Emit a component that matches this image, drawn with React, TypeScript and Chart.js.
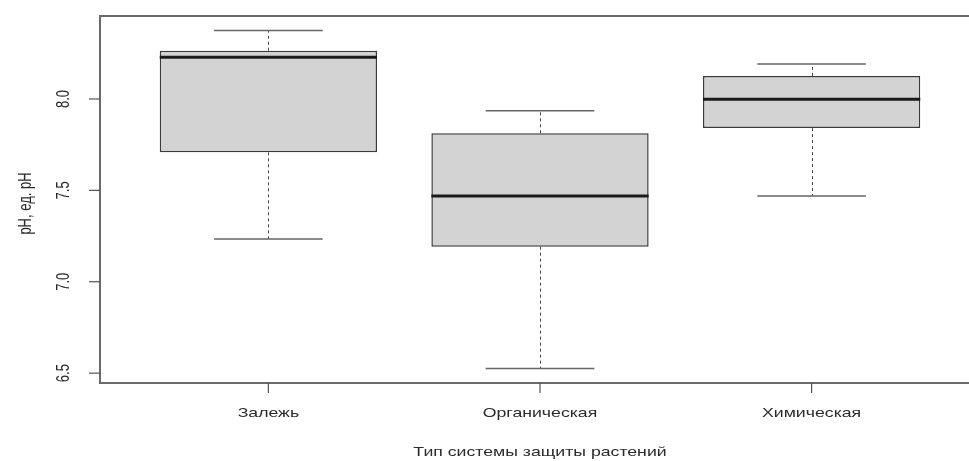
import React, { useEffect, useRef } from "react";
import { Chart, registerables } from "chart.js";

Chart.register(...registerables);

const categories = ["Залежь", "Органическая", "Химическая"];
const whiskerLow = [7.234, 6.525, 7.469];
const q1 = [7.708, 7.192, 7.841];
const median = [8.228, 7.469, 7.998];
const q3 = [8.264, 7.812, 8.126];
const whiskerHigh = [8.374, 7.936, 8.191];
const yTicks = [6.5, 7.0, 7.5, 8.0];
const yTickLabels = ["6.5", "7.0", "7.5", "8.0"];
const yTitle = "pH, ед. pH";
const xTitle = "Тип системы защиты растений";

const FONT = '13px "Liberation Sans", Arial, sans-serif';
const STRETCH = 1.36;
const TEXT = "#2a2a2a";

const boxPlugin = {
  id: "rbox",
  afterDatasetsDraw(chart: any) {
    const ctx = chart.ctx;
    const x = chart.scales.x;
    const y = chart.scales.y;
    ctx.save();
    for (let i = 0; i < categories.length; i++) {
      const v = i + 1;
      const cx = x.getPixelForValue(v);
      const capL = x.getPixelForValue(v - 0.2);
      const capR = x.getPixelForValue(v + 0.2);
      const boxL = x.getPixelForValue(v - 0.4);
      const boxR = x.getPixelForValue(v + 0.4);
      ctx.strokeStyle = "#444";
      ctx.lineWidth = 1;
      ctx.setLineDash([3, 3]);
      ctx.beginPath();
      ctx.moveTo(Math.round(cx) + 0.5, y.getPixelForValue(q3[i]));
      ctx.lineTo(Math.round(cx) + 0.5, y.getPixelForValue(whiskerHigh[i]));
      ctx.moveTo(Math.round(cx) + 0.5, y.getPixelForValue(q1[i]));
      ctx.lineTo(Math.round(cx) + 0.5, y.getPixelForValue(whiskerLow[i]));
      ctx.stroke();
      ctx.setLineDash([]);
      ctx.strokeStyle = "#666";
      ctx.lineWidth = 1.5;
      ctx.beginPath();
      const yh = y.getPixelForValue(whiskerHigh[i]);
      const yl = y.getPixelForValue(whiskerLow[i]);
      ctx.moveTo(capL, yh);
      ctx.lineTo(capR, yh);
      ctx.moveTo(capL, yl);
      ctx.lineTo(capR, yl);
      ctx.stroke();
      ctx.strokeStyle = "#1a1a1a";
      ctx.lineWidth = 3;
      const ym = y.getPixelForValue(median[i]);
      ctx.beginPath();
      ctx.moveTo(boxL, ym);
      ctx.lineTo(boxR, ym);
      ctx.stroke();
    }
    ctx.restore();
  },
  afterDraw(chart: any) {
    const ctx = chart.ctx;
    const x = chart.scales.x;
    const y = chart.scales.y;
    const a = chart.chartArea;
    ctx.save();
    ctx.strokeStyle = "#6a6a6a";
    ctx.lineWidth = 2;
    ctx.strokeRect(a.left, a.top, a.right - a.left, a.bottom - a.top);
    ctx.lineWidth = 1.2;
    ctx.strokeStyle = "#555";
    ctx.fillStyle = TEXT;
    ctx.font = FONT;
    ctx.textAlign = "center";
    ctx.textBaseline = "middle";
    yTicks.forEach((t, k) => {
      const py = y.getPixelForValue(t);
      ctx.beginPath();
      ctx.moveTo(a.left - 11, py);
      ctx.lineTo(a.left, py);
      ctx.stroke();
      ctx.save();
      ctx.translate(a.left - 36, py);
      ctx.scale(STRETCH, 1);
      ctx.rotate(-Math.PI / 2);
      ctx.fillText(yTickLabels[k], 0, 0);
      ctx.restore();
    });
    ctx.save();
    ctx.translate(26, (a.top + a.bottom) / 2 + 4);
    ctx.scale(STRETCH, 1);
    ctx.rotate(-Math.PI / 2);
    ctx.fillText(yTitle, 0, 0);
    ctx.restore();
    categories.forEach((c, i) => {
      const px = x.getPixelForValue(i + 1);
      ctx.beginPath();
      ctx.moveTo(px, a.bottom);
      ctx.lineTo(px, a.bottom + 10);
      ctx.stroke();
      ctx.save();
      ctx.translate(px, a.bottom + 30);
      ctx.scale(STRETCH, 1);
      ctx.fillText(c, 0, 0);
      ctx.restore();
    });
    const mid = x.getPixelForValue(2);
    ctx.save();
    ctx.translate(mid, a.bottom + 69);
    ctx.scale(STRETCH, 1);
    ctx.fillText(xTitle, 0, 0);
    ctx.restore();
    ctx.restore();
  },
};

export default function App() {
  const ref = useRef<HTMLCanvasElement | null>(null);
  useEffect(() => {
    if (!ref.current) return;
    const chart = new Chart(ref.current, {
      type: "bar",
      data: {
        datasets: [
          {
            data: categories.map((_, i) => ({ x: i + 1, y: [q1[i], q3[i]] })) as any,
            backgroundColor: "#d3d3d3",
            borderColor: "#3a3a3a",
            borderWidth: 1.5,
            borderSkipped: false,
            categoryPercentage: 1,
            barPercentage: 0.8,
          },
        ],
      },
      options: {
        responsive: false,
        animation: false,
        layout: { padding: { left: 100, top: 16, right: 10, bottom: 78 } },
        plugins: { legend: { display: false }, tooltip: { enabled: false } },
        scales: {
          x: {
            type: "linear",
            min: 0.38,
            max: 3.62,
            offset: false,
            grid: { display: false, offset: false },
            border: { display: false },
            ticks: { display: false },
            afterBuildTicks: (s: any) => {
              s.ticks = categories.map((_, i) => ({ value: i + 1 }));
            },
            afterFit: (s: any) => {
              s.height = 0;
            },
          },
          y: {
            type: "linear",
            min: 6.446,
            max: 8.454,
            grid: { display: false },
            border: { display: false },
            ticks: { display: false },
            afterBuildTicks: (s: any) => {
              s.ticks = yTicks.map((v) => ({ value: v }));
            },
            afterFit: (s: any) => {
              s.width = 0;
            },
          },
        },
      },
      plugins: [boxPlugin],
    });
    return () => chart.destroy();
  }, []);
  return (
    <div
      style={{
        position: "fixed",
        left: 0,
        top: 0,
        width: 969,
        height: 461,
        overflow: "hidden",
        background: "#fff",
      }}
    >
      <canvas ref={ref} width={990} height={461} style={{ width: 990, height: 461, display: "block" }} />
    </div>
  );
}
